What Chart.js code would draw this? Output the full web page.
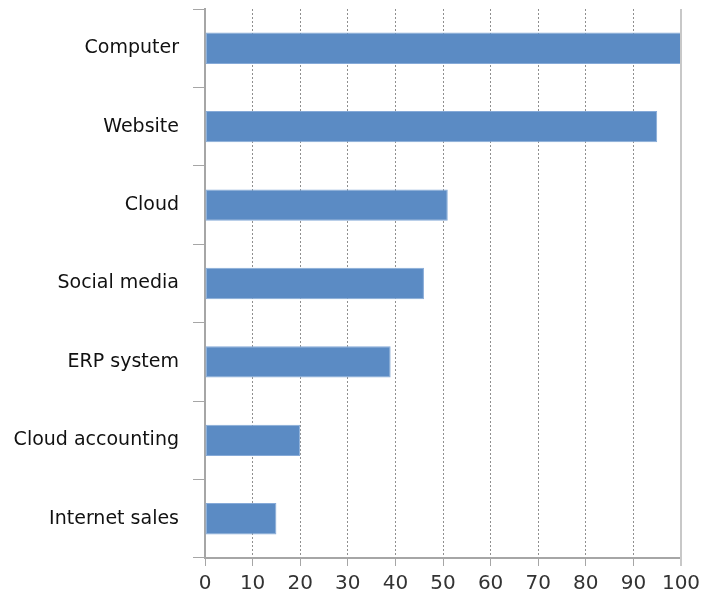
<!DOCTYPE html>
<html lang="en">
<head>
  <meta charset="UTF-8">
  <title>Digital tools</title>
  <script src="https://cdn.jsdelivr.net/npm/chart.js"></script>
  <style>
    html, body { margin: 0; padding: 0; background: #fff; }
    #wrap { width: 704px; height: 602px; }
  </style>
</head>
<body>
  <div id="wrap"><canvas id="myChart"></canvas></div>

  <script>
    // categories and values (percent)
    var categories = ['Computer', 'Website', 'Cloud', 'Social media', 'ERP system', 'Cloud accounting', 'Internet sales'];
    var shares = [100, 95, 51, 46, 39, 20, 15];
    var xTicks = [0, 10, 20, 30, 40, 50, 60, 70, 80, 90, 100];

    var axisGray = '#a6a6a6';

    // solid line on the right edge at the axis maximum
    var rightEdge = {
      id: 'rightEdge',
      afterDatasetsDraw: function(chart) {
        var x = chart.scales.x;
        var px = x.getPixelForValue(xTicks[xTicks.length - 1]);
        var ctx = chart.ctx;
        ctx.save();
        ctx.strokeStyle = '#c8c8c8';
        ctx.lineWidth = 2;
        ctx.beginPath();
        ctx.moveTo(px, chart.chartArea.top);
        ctx.lineTo(px, chart.chartArea.bottom + 8);
        ctx.stroke();
        ctx.restore();
      }
    };

    var ctx = document.getElementById('myChart').getContext('2d');
    var myChart = new Chart(ctx, {
      type: 'bar',
      data: {
        labels: categories,
        datasets: [{
          data: shares,
          backgroundColor: '#5b8bc4',
          borderColor: '#86aad8',
          borderWidth: 1,
          borderSkipped: false,
          categoryPercentage: 1,
          barPercentage: 0.4
        }]
      },
      options: {
        indexAxis: 'y',
        responsive: true,
        maintainAspectRatio: false,
        animation: false,
        layout: { padding: { left: 0, right: 23, top: 9, bottom: 0 } },
        plugins: {
          legend: { display: false },
          tooltip: { enabled: false }
        },
        scales: {
          x: {
            min: 0,
            max: 100,
            afterBuildTicks: function(scale) {
              scale.ticks = xTicks.map(function(v) { return { value: v }; });
            },
            afterFit: function(scale) {
              scale.paddingLeft = 0;
              scale.paddingRight = 0;
            },
            grid: {
              color: '#8f8f8f',
              lineWidth: 1,
              tickLength: 8,
              tickColor: axisGray
            },
            border: { display: true, color: axisGray, width: 2, dash: [2, 2] },
            ticks: {
              color: '#333',
              padding: 6,
              maxRotation: 0,
              font: { family: 'DejaVu Sans', size: 20 }
            }
          },
          y: {
            offset: true,
            afterFit: function(scale) {
              scale.width = 205;
              // labels sit in the middle of each band, no extra room needed
              scale.paddingTop = 0;
              scale.paddingBottom = 0;
            },
            grid: {
              offset: true,
              drawOnChartArea: false,
              tickLength: 12,
              tickColor: axisGray,
              lineWidth: 1
            },
            border: { display: true, color: axisGray, width: 2 },
            ticks: {
              color: '#111',
              padding: 14,
              font: { family: 'DejaVu Sans', size: 19 }
            }
          }
        }
      },
      plugins: [rightEdge]
    });
  </script>
</body>
</html>
